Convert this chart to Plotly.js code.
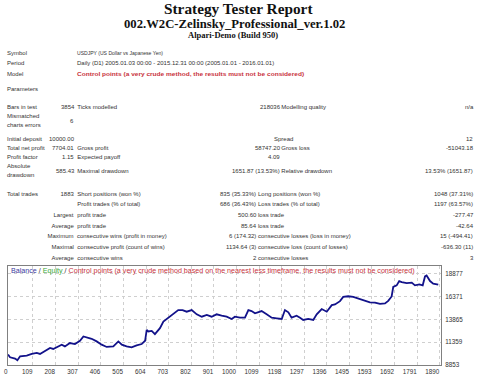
<!DOCTYPE html>
<html>
<head>
<meta charset="utf-8">
<script src="https://cdn.plot.ly/plotly-3.0.1.min.js"></script>
<style>
  html, body { margin: 0; padding: 0; background: #fff; }
  #wrap { position: relative; width: 480px; height: 378px; overflow: hidden; }
  #chart { position: absolute; left: 0; top: 0; width: 480px; height: 378px; }
  .t { position: absolute; white-space: nowrap; font-family: "Liberation Sans", Arial, sans-serif; font-size: 6px; line-height: 1.2; color: #333; transform-origin: 0 50%; }
  .serif { font-family: "Liberation Serif", "Times New Roman", serif; font-weight: bold; color: #111; }
  .red { color: #c8323c; font-weight: bold; }
</style>
</head>
<body>
<div id="wrap">
  <div id="chart"></div>
</div>
<script>
// ---- chart data (balance curve, trade number vs balance) ----
var tradeIdx = [0,9,31,41,53,82,104,126,140,162,184,198,220,235,249,271,293,315,330,344,366,388,410,432,461,483,498,519,541,563,585,600,607,614,629,643,665,680,701,723,745,764,782,804,826,848,870,891,913,935,957,979,993,1015,1037,1052,1066,1081,1095,1110,1132,1154,1176,1198,1212,1227,1241,1263,1278,1292,1314,1336,1351,1373,1395,1417,1431,1453,1467,1489,1511,1540,1562,1584,1606,1628,1650,1664,1679,1686,1701,1712,1723,1745,1767,1781,1800,1815,1825,1832,1847,1861,1883];
var balance = [10000,9700,9560,9380,9810,9890,10070,10180,10070,10360,10730,10620,10900,11090,10900,11270,11160,11520,11990,11880,11740,11450,11090,10840,10900,11450,11090,10900,10790,11010,11160,11520,12720,12540,12610,12250,12910,13630,14060,14430,14900,14900,14720,14900,14430,14170,14360,14170,14430,14280,14170,13920,14170,14060,14060,14900,14790,14540,14650,14790,14430,14060,13990,13920,14900,14650,14060,14280,14060,13810,13920,13810,14430,15010,14720,15440,15520,15880,16350,16420,16350,16120,15880,15750,15720,15580,15630,15910,16400,17440,17620,18090,17980,17870,17920,17620,17730,17620,18600,18710,18090,17810,17704];
var xTicks = [0,109,208,307,406,505,604,703,802,901,1000,1099,1198,1297,1396,1495,1593,1692,1791,1890];
var yTicks = [8853,11359,13865,16371,18877];

// ---- report text ----
var titleLines = ["Strategy Tester Report", "002.W2C-Zelinsky_Professional_ver.1.02", "Alpari-Demo (Build 950)"];
var headerLabels = ["Symbol", "Period", "Model", "Parameters"];
var headerValues = ["USDJPY (US Dollar vs Japanese Yen)", "Daily (D1) 2005.01.03 00:00 - 2015.12.31 00:00 (2005.01.01 - 2016.01.01)", "Control points (a very crude method, the results must not be considered)", ""];
var legendParts = ["Balance", " / ", "Equity", " / ", "Control points (a very crude method based on the nearest less timeframe, the results must not be considered)"];

var wrap = document.getElementById('wrap');
// place text; optional target width fits it horizontally (scaleX) to the reference width
function put(txt, x, y, align, cls, style, tw, node) {
  var d = node || document.createElement('div');
  d.className = 't' + (cls ? ' ' + cls : '');
  if (!node) d.textContent = txt;
  if (style) for (var k in style) d.style[k] = style[k];
  d.style.left = '0px'; d.style.top = y + 'px';
  wrap.appendChild(d);
  var w = d.offsetWidth;
  var sx = tw ? tw / w : 1;
  var ww = w * sx;
  var left = align === 'r' ? x - ww : (align === 'c' ? x - ww / 2 : x);
  d.style.left = left + 'px';
  d.style.transform = 'translateY(-50%) scaleX(' + sx + ')';
  return d;
}

// titles
put(titleLines[0], 238.5, 9, 'c', 'serif', {fontSize: '15px'}, 149);
put(titleLines[1], 234.5, 23.5, 'c', 'serif', {fontSize: '12.5px'}, 221);
put(titleLines[2], 233, 34.5, 'c', 'serif', {fontSize: '8.5px'}, 90);

// header rows
var hy = [54.3, 64.3, 75, 89.5];
var hw = [86, 197, 226.7, 0];
for (var i = 0; i < headerLabels.length; i++) {
  put(headerLabels[i], 7, hy[i], 'l');
  if (headerValues[i]) put(headerValues[i], 76.7, hy[i], 'l', i === 2 ? 'red' : '', null, hw[i]);
}

// top statistics block
var C1V = 74, C2L = 77.3, C2V = 280, C3L = 281.3, C3V = 473;
put('Bars in test', 7, 107.7, 'l'); put('3854', C1V, 107.7, 'r');
put('Ticks modelled', C2L, 107.7, 'l'); put('218036', C2V, 107.7, 'r');
put('Modelling quality', C3L, 107.7, 'l'); put('n/a', C3V, 107.7, 'r');
put('Mismatched', 7, 117.3, 'l'); put('charts errors', 7, 125.7, 'l'); put('6', 73, 121.5, 'r');
put('Initial deposit', 7, 140, 'l'); put('10000.00', C1V, 140, 'r');
put('Spread', 274, 140, 'l'); put('12', C3V, 140, 'r');
put('Total net profit', 7, 149, 'l'); put('7704.01', C1V, 149, 'r');
put('Gross profit', C2L, 149, 'l'); put('58747.20', C2V, 149, 'r');
put('Gross loss', C3L, 149, 'l'); put('-51043.18', C3V, 149, 'r');
put('Profit factor', 7, 158.3, 'l'); put('1.15', C1V, 158.3, 'r');
put('Expected payoff', C2L, 158.3, 'l'); put('4.09', C2V, 158.3, 'r');
put('Absolute', 7, 167.3, 'l'); put('drawdown', 7, 175.5, 'l'); put('585.43', C1V, 171.5, 'r');
put('Maximal drawdown', C2L, 171.5, 'l'); put('1651.87 (13.53%)', C2V, 171.5, 'r');
put('Relative drawdown', C3L, 171.5, 'l'); put('13.53% (1651.87)', C3V, 171.5, 'r');

// trades block
var tradeRowsY = [195, 205, 216, 226.7, 237.3, 248, 258.7];
var tradeLead = ['Total trades', '', 'Largest', 'Average', 'Maximum', 'Maximal', 'Average'];
var tradeLeadVal = ['1883', '', '', '', '', '', ''];
var tradeL2 = ['Short positions (won %)', 'Profit trades (% of total)', 'profit trade', 'profit trade', 'consecutive wins (profit in money)', 'consecutive profit (count of wins)', 'consecutive wins'];
var tradeV2 = ['835 (35.33%)', '686 (36.43%)', '500.60', '85.64', '6 (174.32)', '1134.64 (3)', '2'];
var tradeL3 = ['Long positions (won %)', 'Loss trades (% of total)', 'loss trade', 'loss trade', 'consecutive losses (loss in money)', 'consecutive loss (count of losses)', 'consecutive losses'];
var tradeV3 = ['1048 (37.31%)', '1197 (63.57%)', '-277.47', '-42.64', '15 (-494.41)', '-636.30 (11)', '3'];
for (var r = 0; r < tradeRowsY.length; r++) {
  var y = tradeRowsY[r];
  if (r === 0) put(tradeLead[r], 7, y, 'l'); else put(tradeLead[r], 73.5, y, 'r');
  if (tradeLeadVal[r]) put(tradeLeadVal[r], 73.5, y, 'r');
  put(tradeL2[r], C2L, y, 'l', '', null, r === 4 ? 89.3 : 0);
  put(tradeV2[r], 256, y, 'r');
  put(tradeL3[r], 258, y, 'l');
  put(tradeV3[r], C3V, y, 'r');
}

// chart legend text (inside the chart frame)
var lg = document.createElement('div');
var cols = ['#3a3aa0', '#333', '#3aa83a', '#333', '#c8323c'];
legendParts.forEach(function (p, k) {
  var s = document.createElement('span');
  s.textContent = p; s.style.color = cols[k];
  lg.appendChild(s);
});
lg.style.zIndex = 5;

// ---- plotly chart ----
var trace = {
  x: tradeIdx, y: balance, type: 'scatter', mode: 'lines',
  line: {color: '#12128a', width: 1.8}, hoverinfo: 'skip', showlegend: false
};
var tickFont = {family: 'Liberation Sans, Arial, sans-serif', size: 6.3, color: '#333'};
var layout = {
  width: 480, height: 378,
  margin: {l: 8, r: 39, t: 265.5, b: 12.5, pad: 0},
  paper_bgcolor: 'rgba(0,0,0,0)', plot_bgcolor: '#fff',
  showlegend: false,
  xaxis: {
    range: [0, 1895], tickvals: xTicks, ticktext: xTicks.map(String), tickangle: 0,
    showgrid: true, gridcolor: '#cfcfcf', griddash: 'dot', gridwidth: 1,
    showline: true, mirror: true, linecolor: '#808080', linewidth: 1,
    zeroline: false, ticks: '', ticklabelposition: 'outside left',
    tickfont: tickFont, ticklabelstandoff: 0, automargin: false
  },
  yaxis: {
    range: [8853, 19749], tickvals: yTicks, ticktext: yTicks.map(String),
    side: 'right', showgrid: true, gridcolor: '#cfcfcf', griddash: 'dot', gridwidth: 1,
    showline: true, mirror: true, linecolor: '#808080', linewidth: 1,
    zeroline: false, ticks: '', tickfont: tickFont, ticklabelstandoff: 2, automargin: false
  }
};
Plotly.newPlot('chart', [trace], layout, {staticPlot: true, displayModeBar: false}).then(function () {
  put('', 10.5, 271, 'l', '', {fontSize: '6.4px'}, 404, lg);
});
</script>
</body>
</html>
